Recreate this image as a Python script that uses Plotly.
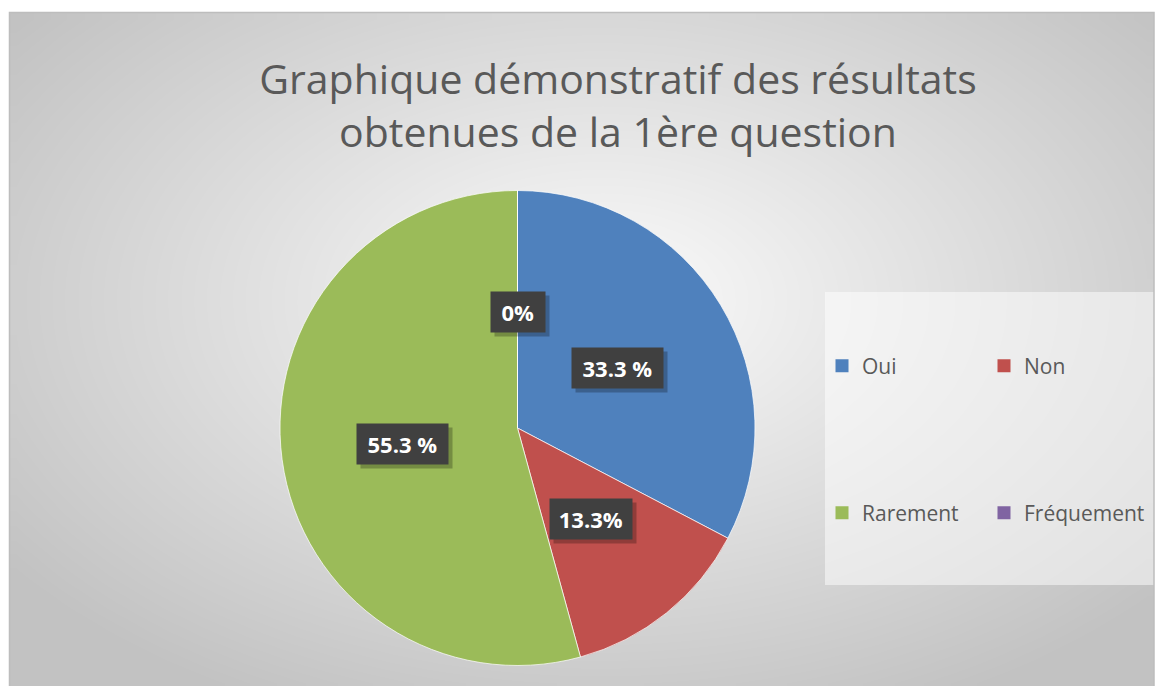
import math
import numpy as np
import plotly.graph_objects as go

# data
categories = ["Oui", "Non", "Rarement", "Fréquement"]
values = [33.3, 13.3, 55.3, 0]
value_labels = ["33.3 %", "13.3%", "55.3 %", "0%"]
colors = ["#4F81BD", "#C0504D", "#9BBB59", "#8064A2"]

title_text = "Graphique démonstratif des résultats<br>obtenues de la 1ère question"

W, H = 1156, 686
PIE_CX, PIE_CY, PIE_R = 517.5, 428, 237.5   # window pixels


def px(xv):
    return xv / W


def py(yv):
    return 1 - yv / H


fig = go.Figure()

# background: radial grey gradient inside the chart frame
gx = np.linspace(9, 1154, 81)
gy = np.linspace(12, 690, 51)
XX, YY = np.meshgrid((gx[:-1] + gx[1:]) / 2, (gy[:-1] + gy[1:]) / 2)
dist = np.sqrt(((XX - 600) / 700) ** 2 + ((YY - 300) / 430) ** 2)
fig.add_trace(go.Heatmap(
    x=gx, y=gy, z=dist, zmin=0, zmax=1.05,
    colorscale=[[0, "#fbfbfb"], [1, "#c2c2c2"]],
    zsmooth="best", showscale=False, hoverinfo="skip", showlegend=False,
))

# pie
fig.add_trace(go.Pie(
    labels=categories, values=values, sort=False, direction="clockwise",
    rotation=0, marker=dict(colors=colors, line=dict(color="rgba(255,255,255,0.7)", width=1)),
    textinfo="none", hoverinfo="label+value", showlegend=False,
    domain=dict(x=[px(PIE_CX - PIE_R), px(PIE_CX + PIE_R)],
                y=[py(PIE_CY + PIE_R), py(PIE_CY - PIE_R)]),
))

# legend entries (two rows, two columns)
for i, (cat, col) in enumerate(zip(categories, colors)):
    fig.add_trace(go.Scatter(
        x=[None], y=[None], mode="markers", name=cat,
        marker=dict(symbol="square", size=13, color=col),
        legend="legend" if i < 2 else "legend2",
    ))

# data labels in dark boxes, placed at mid-angle of each slice
total = sum(values)
cum = 0
annotations = []
for val, lab in zip(values, value_labels):
    theta = 2 * math.pi * (cum + val / 2) / total
    cum += val
    r = 0.49 * PIE_R
    lx = PIE_CX + r * math.sin(theta)
    ly = PIE_CY - r * math.cos(theta)
    box_w = 9.3 * len(lab) + 35
    # drop shadow
    annotations.append(dict(
        x=lx + 4, y=ly + 4, xref="x", yref="y", text="&nbsp;", showarrow=False,
        width=box_w, height=40, borderpad=0, bgcolor="rgba(0,0,0,0.25)",
    ))
    annotations.append(dict(
        x=lx, y=ly, xref="x", yref="y", text=lab, showarrow=False,
        font=dict(family="Open Sans", size=22, color="white", weight="bold"),
        width=box_w, height=40, borderpad=0, bgcolor="#404040",
    ))

shapes = [
    # legend panel
    dict(type="rect", xref="x", yref="y", x0=825, x1=1155, y0=292, y1=585,
         fillcolor="rgba(255,255,255,0.5)", line=dict(width=0), layer="above"),
    # chart frame
    dict(type="rect", xref="x", yref="y", x0=9.5, x1=1154, y0=12.5, y1=695,
         fillcolor="rgba(0,0,0,0)", line=dict(color="#bdbdbd", width=1.5), layer="above"),
]

legend_style = dict(
    orientation="h", xanchor="left", yanchor="middle", x=px(822),
    font=dict(family="Open Sans", size=21, color="#595959"),
    bgcolor="rgba(0,0,0,0)", entrywidth=117, entrywidthmode="pixels",
    itemclick=False,
)

fig.update_layout(
    width=W, height=H,
    margin=dict(l=0, r=0, t=0, b=0),
    paper_bgcolor="white", plot_bgcolor="white",
    title=dict(text=title_text, x=px(618), xanchor="center", y=py(94), yanchor="top",
               font=dict(family="Open Sans", size=41, color="#595959")),
    xaxis=dict(range=[0, W], visible=False, fixedrange=True),
    yaxis=dict(range=[H, 0], visible=False, fixedrange=True),
    legend=dict(legend_style, y=py(366)),
    legend2=dict(legend_style, y=py(513)),
    annotations=annotations,
    shapes=shapes,
)

# drop the default page margin so the figure fills the window exactly
fig.write_html("out.html", config={"displayModeBar": False},
               post_script="document.body.style.margin='0';document.body.style.overflow='hidden';")
